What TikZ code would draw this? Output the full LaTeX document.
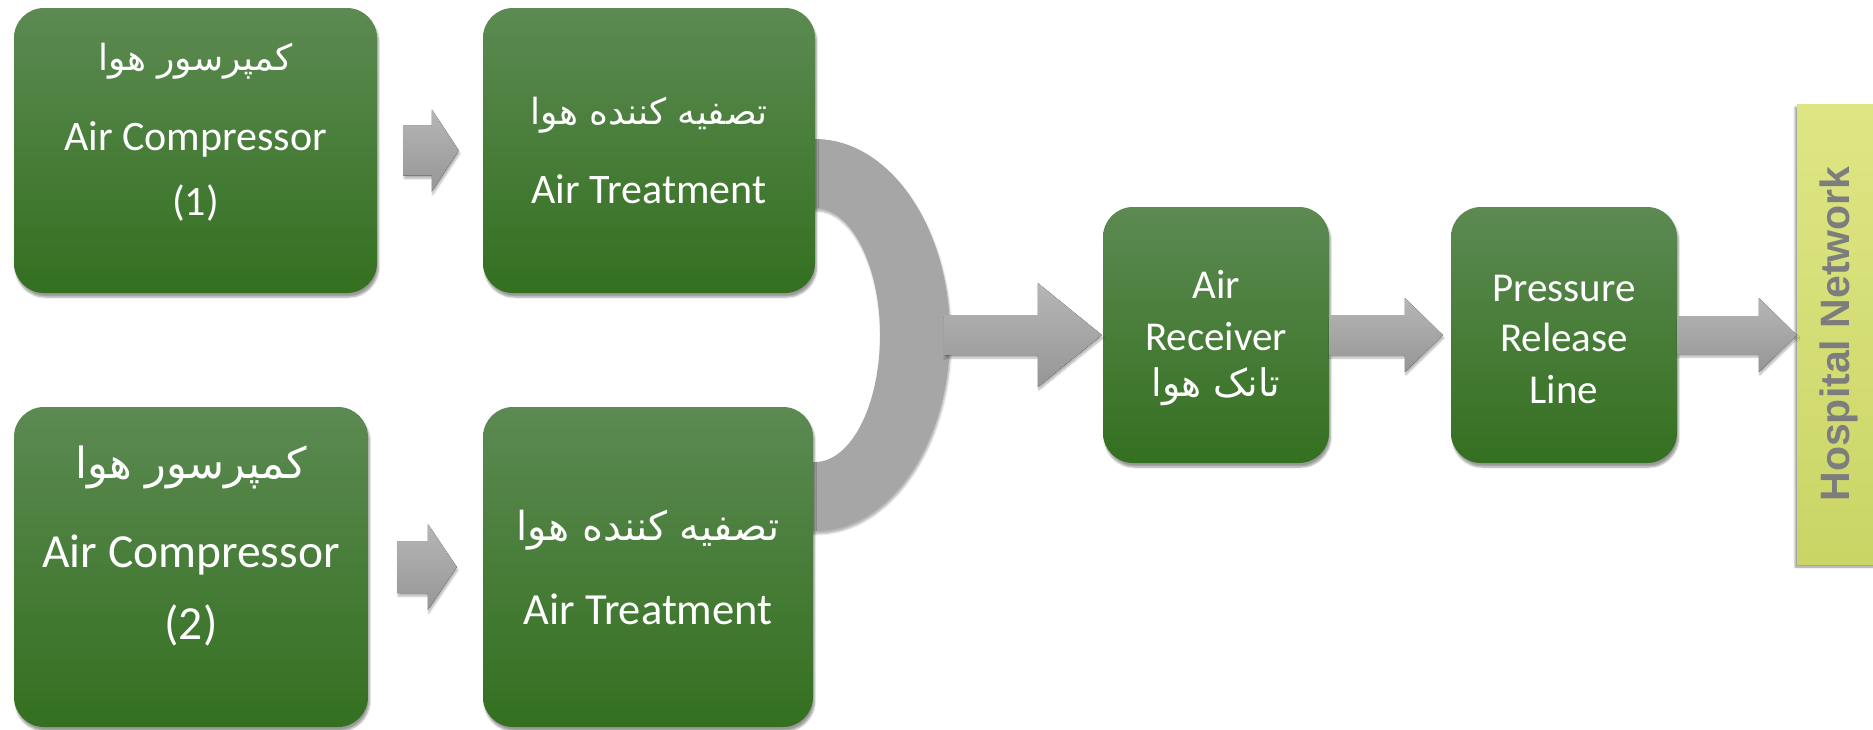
\documentclass[tikz,border=0pt]{standalone}
\usepackage{fontspec}
\setmainfont{Carlito}
\newfontfamily\fafont[Script=Arabic]{DejaVu Sans}
\newfontfamily\netfont{Liberation Sans}
\TeXXeTstate=1
\usetikzlibrary{calc,shadows,shadows.blur}

\definecolor{greentop}{RGB}{92,138,82}
\definecolor{greenbot}{RGB}{52,112,32}
\definecolor{pipetop}{RGB}{182,182,182}
\definecolor{pipebot}{RGB}{150,150,150}
\definecolor{pipegray}{RGB}{166,166,166}
\definecolor{netleft}{RGB}{222,230,132}
\definecolor{netright}{RGB}{202,213,102}
\definecolor{nettext}{RGB}{125,125,125}

% persian font at a given size
\newcommand\fasize[1]{\fafont\fontsize{#1}{#1}\selectfont}

% block arrow: start, tip, shaft half height, head half height, head length
\newcommand\pipearrow[5]{%
  \fill[pipe] ($#1+(0,-#3)$) -- ($#2+(-#5,-#3)$) -- ($#2+(-#5,-#4)$) -- #2
    -- ($#2+(-#5,#4)$) -- ($#2+(-#5,#3)$) -- ($#1+(0,#3)$) -- cycle;}

\tikzset{
  stage/.style={rectangle, rounded corners=30pt, top color=greentop, bottom color=greenbot,
    text=white, align=center, inner sep=0pt,
    blur shadow={shadow xshift=1.5pt, shadow yshift=-4pt, shadow blur steps=6, shadow opacity=40}},
  pipe/.style={top color=pipetop, bottom color=pipebot,
    blur shadow={shadow xshift=1pt, shadow yshift=-3pt, shadow blur steps=5, shadow opacity=30}},
  netbar/.style={rectangle, top color=netleft, bottom color=netright, inner sep=0pt,
    text=nettext, font=\netfont\bfseries\fontsize{41}{48}\selectfont,
    blur shadow={shadow xshift=-2pt, shadow yshift=-3pt, shadow blur steps=5, shadow opacity=40}}
}

\begin{document}
\begin{tikzpicture}[x=1pt, y=-1pt]
\useasboundingbox (0,0) rectangle (1873,729);

% merging pipe behind the two treatment boxes
\fill[pipegray, blur shadow={shadow xshift=1pt, shadow yshift=-3pt, shadow blur steps=5, shadow opacity=30}]
  (800,139) -- (815,139) arc[start angle=-90, end angle=90, x radius=135, y radius=196]
  -- (800,531) -- (800,462) -- (815,462) arc[start angle=90, end angle=-90, x radius=65, y radius=127]
  -- (800,208) -- cycle;
\coordinate (merge) at (950,335);

% boxes
\node[stage, minimum width=363, minimum height=285, font=\fontsize{42}{50}\selectfont] (comp1) at (195.5,150.5)
  {{\fasize{36}\beginR کمپرسور هوا\endR}\\[30pt] Air Compressor\\[15pt] (1)\\[-8pt]\mbox{}};
\node[stage, minimum width=332, minimum height=285, font=\fontsize{42}{50}\selectfont] (treat1) at (649,150.5)
  {{\fasize{36}\beginR تصفیه کننده هوا\endR}\\[29pt] Air Treatment};
\node[stage, minimum width=354, minimum height=320, font=\fontsize{47.5}{57}\selectfont] (comp2) at (191,567)
  {{\fasize{43}\beginR کمپرسور هوا\endR}\\[32pt] Air Compressor\\[15pt] (2)\\[-8pt]\mbox{}};
\node[stage, minimum width=330, minimum height=320, font=\fontsize{44.5}{53}\selectfont] (treat2) at (648,567)
  {{\fasize{40}\beginR تصفیه کننده هوا\endR}\\[31pt] Air Treatment};
\node[stage, minimum width=226, minimum height=256, font=\fontsize{41}{50}\selectfont] (recv) at (1216,335)
  {\mbox{}\\[-15pt] Air\\[2pt] Receiver\\[-4pt] {\fasize{38}\beginR تانک هوا\endR}};
\node[stage, minimum width=226, minimum height=256, font=\fontsize{41}{50}\selectfont] (press) at (1564,335)
  {\mbox{}\\[-15pt] Pressure\\ Release\\[2pt] Line};
\node[netbar, rotate=90, minimum width=460, minimum height=84] (net) at (1839,334) {Hospital Network};

% arrows
\pipearrow{([xshift=26pt]comp1.east)}{([xshift=-24pt]treat1.west)}{25}{41}{27}
\pipearrow{([xshift=29pt]comp2.east)}{([xshift=-26pt]treat2.west)}{26}{43}{29}
\pipearrow{([xshift=-6pt]merge)}{([xshift=-1pt]recv.west)}{20}{52}{64}
\pipearrow{(recv.east)}{([xshift=-8pt]press.west)}{20}{37}{38}
\pipearrow{(press.east)}{(net.north |- press.east)}{19}{37}{38}
\end{tikzpicture}
\end{document}
